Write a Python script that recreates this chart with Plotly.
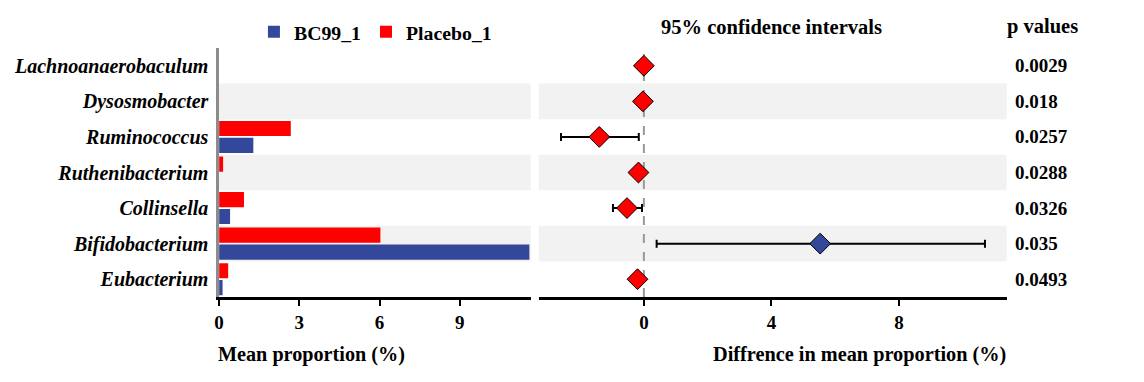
import plotly.graph_objects as go

# ---- data ----
genera = ["Lachnoanaerobaculum", "Dysosmobacter", "Ruminococcus", "Ruthenibacterium",
          "Collinsella", "Bifidobacterium", "Eubacterium"]
bc99 = [0.0, 0.0, 1.28, 0.0, 0.41, 11.6, 0.13]
placebo = [0.0, 0.0, 2.68, 0.15, 0.93, 6.03, 0.34]
diff = [0.0, -0.03, -1.40, -0.17, -0.53, 5.53, -0.20]
ci_low = [-0.04, -0.07, -2.60, -0.22, -0.97, 0.40, -0.25]
ci_high = [0.04, 0.01, -0.16, -0.12, -0.06, 10.70, -0.15]
p_values = ["0.0029", "0.018", "0.0257", "0.0288", "0.0326", "0.035", "0.0493"]
left_ticks = [0, 3, 6, 9]
right_ticks = [0, 4, 8]

BLUE = "#33489A"
RED = "#FF0000"
FONT = "Liberation Serif"
W, H = 1144, 382
OFF = 8  # page body margin offset


def px(x):
    return (x - OFF) / W


def py(y):
    return 1 - (y - OFF) / H


order = genera[::-1]  # bottom -> top

fig = go.Figure()
fig.add_trace(go.Bar(y=genera, x=bc99, orientation="h", name="BC99_1",
                     marker=dict(color=BLUE, line=dict(width=0)), xaxis="x", yaxis="y"))
fig.add_trace(go.Bar(y=genera, x=placebo, orientation="h", name="Placebo_1",
                     marker=dict(color=RED, line=dict(width=0)), xaxis="x", yaxis="y"))

colors = [BLUE if d > 0 else RED for d in diff]
fig.add_trace(go.Scatter(
    y=genera, x=diff, mode="markers", xaxis="x2", yaxis="y2", showlegend=False,
    marker=dict(symbol="diamond", size=16, color=colors, line=dict(color="black", width=1)),
    error_x=dict(type="data", symmetric=False,
                 array=[h - d for h, d in zip(ci_high, diff)],
                 arrayminus=[d - l for d, l in zip(diff, ci_low)],
                 color="black", thickness=2, width=4),
))

shapes = []
for i, g in enumerate(genera):
    if i % 2 == 1:
        idx = order.index(g)
        for xr, yr in (("x domain", "y"), ("x2 domain", "y2")):
            shapes.append(dict(type="rect", xref=xr, yref=yr, x0=0, x1=1,
                               y0=idx - 0.5, y1=idx + 0.5, fillcolor="#F2F2F2",
                               line=dict(width=0), layer="below"))
shapes.append(dict(type="line", xref="x2", yref="y2 domain", x0=0, x1=0, y0=0, y1=1,
                   line=dict(color="#999999", width=2, dash="dash"), layer="below"))


def bold(size):
    return dict(family=FONT, size=size, color="black", weight="bold")


ann = []
for g, p in zip(genera, p_values):
    ann.append(dict(text=p, xref="paper", yref="y2", x=px(1012), y=g, xanchor="left",
                    yanchor="middle", showarrow=False, font=bold(19)))
ann += [
    dict(text="95% confidence intervals", xref="paper", yref="paper", x=px(770),
         y=py(27), xanchor="center", yanchor="middle", showarrow=False, font=bold(20.5)),
    dict(text="p values", xref="paper", yref="paper", x=px(1042), y=py(27),
         xanchor="center", yanchor="middle", showarrow=False, font=bold(20.5)),
    dict(text="Mean proportion (%)", xref="paper", yref="paper", x=px(212),
         y=py(354), xanchor="left", yanchor="middle", showarrow=False, font=bold(20.2)),
    dict(text="Diffrence in mean proportion (%)", xref="paper", yref="paper",
         x=px(1007), y=py(354), xanchor="right", yanchor="middle", showarrow=False,
         font=bold(20.3)),
    dict(text="D", xref="paper", yref="paper", x=0, y=1 - 6 / H,
         xanchor="left", yanchor="bottom", showarrow=False,
         font=dict(family="Liberation Sans", size=22, color="black", weight="bold")),
]

ydom = [py(297), py(48)]
axis_font = bold(19)

fig.update_layout(
    width=W, height=H, margin=dict(l=0, r=0, t=0, b=0),
    paper_bgcolor="white", plot_bgcolor="rgba(0,0,0,0)",
    barmode="group", bargap=0.05, bargroupgap=0.1,
    shapes=shapes, annotations=ann,
    legend=dict(orientation="h", x=px(250), y=py(32), xanchor="left", yanchor="middle",
                font=bold(19.8), traceorder="normal", bgcolor="rgba(0,0,0,0)"),
    xaxis=dict(domain=[px(215), px(528)], range=[0, 11.65], tickvals=left_ticks,
               ticks="outside", ticklen=6, tickwidth=2, tickcolor="black",
               showline=True, linecolor="black", linewidth=2.5, showgrid=False,
               zeroline=False, tickfont=axis_font, anchor="y"),
    yaxis=dict(domain=ydom, categoryorder="array", categoryarray=order,
               range=[-0.5, len(order) - 0.5],
               showline=True, linecolor="#8C8C8C", linewidth=2.5, showgrid=False,
               ticks="", ticklabelstandoff=4, anchor="x",
               tickfont=dict(family=FONT, size=20, color="black", weight="bold",
                             style="italic")),
    xaxis2=dict(domain=[px(536), px(1006)], range=[-3.3, 11.38], tickvals=right_ticks,
                ticks="outside", ticklen=6, tickwidth=2, tickcolor="black",
                showline=True, linecolor="black", linewidth=2.5, showgrid=False,
                zeroline=False, tickfont=axis_font, anchor="y2"),
    yaxis2=dict(domain=ydom, categoryorder="array", categoryarray=order,
                range=[-0.5, len(order) - 0.5],
                showticklabels=False, showline=False, showgrid=False, ticks="",
                anchor="x2"),
)

fig.write_html("out.html")
